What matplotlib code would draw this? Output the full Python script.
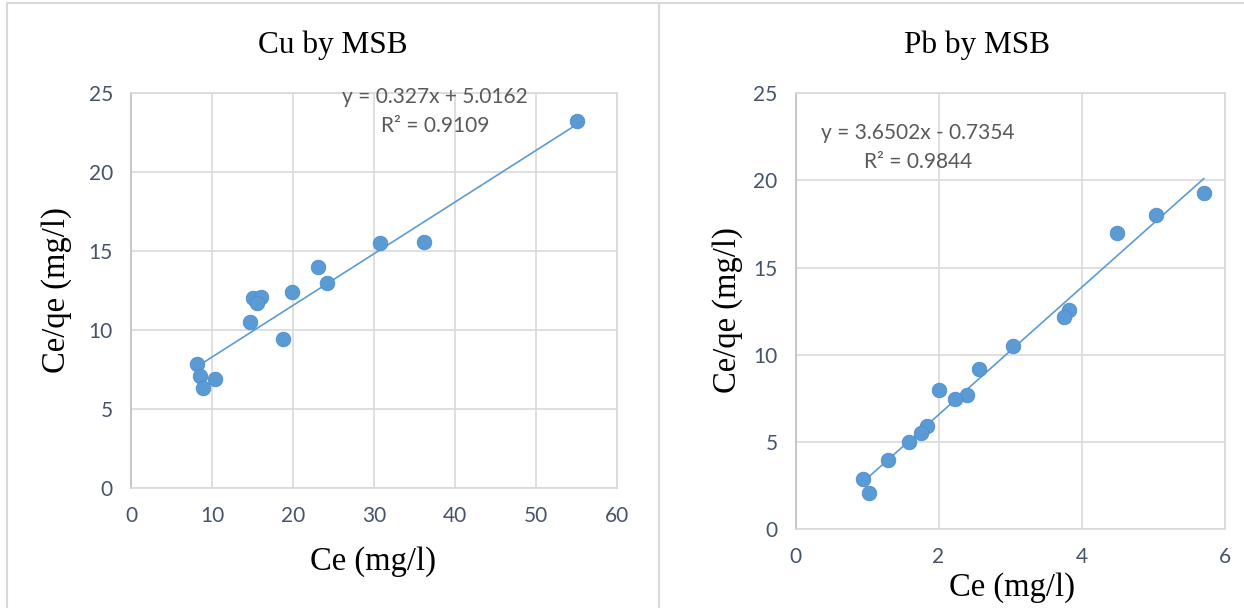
import numpy as np
import matplotlib.pyplot as plt
from matplotlib.lines import Line2D

# Cu by MSB
cu_ce = [55.1, 30.7, 36.2, 23.1, 24.2, 19.9, 15.1, 16.1, 15.6, 14.7, 18.8, 8.2, 8.5, 10.4, 8.9]
cu_ceqe = [23.2, 15.5, 15.6, 14.0, 13.0, 12.4, 12.0, 12.1, 11.7, 10.5, 9.4, 7.85, 7.1, 6.9, 6.35]
cu_slope, cu_icept = 0.327, 5.0162
cu_eq = ["y = 0.327x + 5.0162", "R² = 0.9109"]

# Pb by MSB
pb_ce = [5.71, 5.04, 4.50, 3.82, 3.76, 3.04, 2.56, 2.01, 2.40, 2.23, 1.84, 1.76, 1.59, 1.30, 0.95, 1.03]
pb_ceqe = [19.27, 18.0, 17.0, 12.6, 12.2, 10.5, 9.2, 8.0, 7.7, 7.45, 5.94, 5.54, 4.99, 3.97, 2.88, 2.10]
pb_slope, pb_icept = 3.6502, -0.7354
pb_eq = ["y = 3.6502x - 0.7354", "R² = 0.9844"]

BLUE = "#5B9BD5"
GRID = "#D9D9D9"
TICK = "#465468"
SERIF = "Liberation Serif"
SANS = "Lato"

W, H = 1244, 608
fig = plt.figure(figsize=(W / 100, H / 100), dpi=100)


def px_axes(x0, x1, ytop, ybot):
    return fig.add_axes([x0 / W, 1 - ybot / H, (x1 - x0) / W, (ybot - ytop) / H])


def draw(ax, x, y, slope, icept, xlim, xstep, title, eq, eq_xy, tx, ty, ylx, yly, xlx, xly):
    ax.set_xlim(*xlim)
    ax.set_ylim(0, 25)
    ax.set_xticks(np.arange(xlim[0], xlim[1] + 0.01, xstep))
    ax.set_yticks(np.arange(0, 26, 5))
    ax.grid(True, color=GRID, lw=1.2)
    ax.set_axisbelow(True)
    for s in ax.spines.values():
        s.set_color(GRID)
        s.set_linewidth(1.2)
    ax.spines["left"].set_color("#BFBFBF")
    ax.tick_params(length=0, labelsize=15, colors=TICK, pad=13)
    for lab in ax.get_xticklabels() + ax.get_yticklabels():
        lab.set_fontfamily(SANS)
    xs = np.array([min(x), max(x)])
    ax.plot(xs, slope * xs + icept, color=BLUE, lw=1.2, zorder=2)
    ax.scatter(x, y, s=110, color=BLUE, edgecolors="#4F8CC9", linewidths=0.6, zorder=3)
    ex, ey = eq_xy
    fig.text(ex / W, 1 - ey / H, eq[0], ha="center", va="center",
             fontsize=15, color="#595959", family=SANS)
    fig.text(ex / W, 1 - (ey + 29) / H, eq[1], ha="center", va="center",
             fontsize=15, color="#595959", family=SANS)
    fig.text(tx / W, 1 - ty / H, title, ha="center", va="center",
             fontsize=22.5, family=SERIF)
    fig.text(ylx / W, 1 - yly / H, "Ce/qe (mg/l)", ha="center", va="center",
             rotation=90, fontsize=23.5, family=SERIF)
    fig.text(xlx / W, 1 - xly / H, "Ce (mg/l)", ha="center", va="center",
             fontsize=23.5, family=SERIF)


ax1 = px_axes(131, 617, 93, 488)
draw(ax1, cu_ce, cu_ceqe, cu_slope, cu_icept, (0, 60), 10, "Cu by MSB", cu_eq,
     (435, 97), 333, 45, 57, 290, 373, 562)

ax2 = px_axes(795.5, 1224.5, 93.3, 529.3)
draw(ax2, pb_ce, pb_ceqe, pb_slope, pb_icept, (0, 6), 2, "Pb by MSB", pb_eq,
     (918, 133), 977, 45, 728, 310, 1012, 588)

# chart area borders
for xa, ya in [([7 / W, 7 / W], [0, 1 - 3 / H]),
               ([659 / W, 659 / W], [0, 1 - 3 / H]),
               ([7 / W, 1], [1 - 3 / H, 1 - 3 / H])]:
    fig.add_artist(Line2D(xa, ya, color=GRID, lw=1.5))

fig.savefig("out.png", dpi=100)
